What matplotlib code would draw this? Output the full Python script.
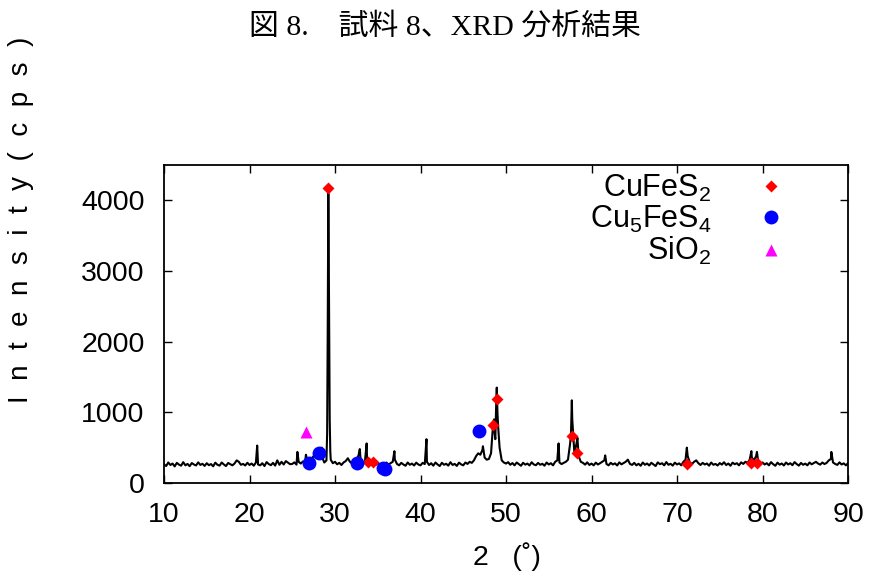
import matplotlib
matplotlib.use('Agg')
import matplotlib.pyplot as plt
import numpy as np

# Scan background, 10-90 deg in 0.25 deg steps (counts)
scan_counts = [
    265, 240, 290, 255, 275, 235, 285, 260, 245, 295, 250, 270, 238, 282, 262, 248, 292, 256, 272, 242,
    280, 252, 268, 236, 288, 258, 246, 290, 262, 240, 284, 266, 250, 276, 320, 300, 258, 270, 248, 286,
    255, 275, 245, 290, 262, 250, 280, 240, 296, 268, 252, 285, 246, 320, 258, 300, 262, 310, 288, 266,
    270, 292, 260, 300, 275, 305, 290, 330, 300, 345, 380, 360, 420, 410, 360, 290, 320, 3600, 330, 280,
    300, 265, 285, 255, 290, 310, 350, 300, 275, 300, 330, 390, 320, 280, 300, 330, 280, 265, 290, 255,
    285, 260, 275, 245, 290, 262, 280, 300, 330, 270, 250, 285, 262, 244, 290, 258, 275, 248, 288, 262,
    250, 285, 268, 300, 255, 280, 245, 290, 262, 240, 286, 258, 272, 246, 294, 256, 270, 242, 288, 264,
    250, 290, 270, 300, 285, 320, 380, 420, 400, 470, 360, 330, 340, 420, 850, 620, 1000, 500, 320, 290,
    275, 295, 258, 282, 250, 290, 266, 244, 286, 260, 275, 248, 294, 262, 252, 284, 258, 272, 245, 290,
    262, 280, 250, 300, 320, 290, 268, 285, 300, 330, 560, 900, 420, 560, 380, 300, 285, 260, 292, 255,
    275, 250, 288, 262, 280, 300, 320, 270, 250, 285, 262, 278, 248, 292, 264, 282, 300, 330, 270, 256,
    285, 250, 272, 244, 290, 258, 276, 248, 286, 262, 240, 292, 266, 280, 250, 296, 258, 272, 246, 288,
    262, 278, 250, 300, 330, 380, 290, 270, 300, 320, 280, 255, 285, 262, 276, 245, 290, 258, 270, 248,
    282, 260, 294, 254, 276, 244, 288, 266, 280, 250, 292, 270, 300, 285, 330, 360, 320, 380, 300, 275,
    290, 262, 280, 250, 295, 266, 244, 288, 260, 276, 248, 290, 262, 280, 252, 296, 268, 246, 284, 258,
    274, 250, 290, 264, 282, 300, 275, 260, 290, 268, 285, 320, 340, 290, 270, 256, 292, 262, 278, 250,
    280,
]

# Sharp reflections lying between scan steps
peak_2theta = [20.9, 25.6, 26.6, 28.45, 29.08, 29.15, 29.22, 29.3, 29.38, 29.45,
               32.9, 33.7, 36.95, 40.7, 47.3, 48.6, 48.68, 48.85, 48.92, 49.08,
               56.15, 57.6, 57.7, 58.35, 61.6, 71.15, 78.7, 79.35, 88.05]
peak_counts = [530, 440, 400, 500, 700, 2200, 4100, 2600, 900, 450,
               480, 560, 450, 620, 520, 900, 700, 1100, 1350, 800,
               560, 700, 1170, 640, 390, 500, 450, 440, 440]

# Phase markers
cufes2_x = [29.2, 33.9, 34.5, 48.5, 48.95, 57.7, 58.35, 71.2, 78.7, 79.4]
cufes2_y = [4180, 300, 300, 820, 1185, 660, 420, 270, 280, 280]
cu5fes4_x = [27.0, 28.1, 32.6, 35.6, 35.8, 46.8]
cu5fes4_y = [283, 420, 283, 215, 200, 735]
sio2_x = [26.6]
sio2_y = [720]

x_ticks = [10, 20, 30, 40, 50, 60, 70, 80, 90]
y_ticks = [0, 1000, 2000, 3000, 4000]

plt.rcParams['font.family'] = ['Liberation Sans', 'Noto Sans CJK JP', 'DejaVu Sans']
plt.rcParams['mathtext.fontset'] = 'custom'
plt.rcParams['mathtext.rm'] = 'Liberation Sans'
plt.rcParams['mathtext.it'] = 'Liberation Sans:italic'

scan_x = np.linspace(10, 90, len(scan_counts))
all_x = np.concatenate([scan_x, peak_2theta])
all_y = np.concatenate([scan_counts, peak_counts])
order = np.argsort(all_x)

fig = plt.figure(figsize=(8.74, 5.85), dpi=100)
ax = fig.add_axes([164 / 874, 1 - 483 / 585, (848 - 164) / 874, (483 - 165) / 585])

ax.plot(all_x[order], all_y[order], color='black', lw=1.5, zorder=2)

ax.plot(cufes2_x, cufes2_y, ls='none', marker='D', ms=6, color='#ff0000',
        mec='none', label='CuFeS$_2$', zorder=3)
ax.plot(cu5fes4_x, cu5fes4_y, ls='none', marker='o', ms=10, color='#0000ff',
        mec='none', label='Cu$_5$FeS$_4$', zorder=3)
ax.plot(sio2_x, sio2_y, ls='none', marker='^', ms=8.5, color='#ff00ff',
        mec='none', label='SiO$_2$', zorder=3)

ax.set_xlim(10, 90)
ax.set_ylim(0, 4500)
ax.set_xticks(x_ticks)
ax.set_yticks(y_ticks)
ax.tick_params(direction='in', length=6, width=1, top=True, right=True,
               labelsize=20.5, pad=14)
for s in ax.spines.values():
    s.set_linewidth(1.3)

ax.legend(loc='upper right', bbox_to_anchor=(786 / 874, 1 - 173 / 585),
          bbox_transform=fig.transFigure, frameon=False, markerfirst=False,
          fontsize=22, handlelength=1.0, handletextpad=1.45,
          labelspacing=0.0, borderpad=0, borderaxespad=0)

fig.text(0.509, 0.954, '図 8.　試料 8、XRD 分析結果', ha='center', va='center',
         fontsize=21.5, family=['Liberation Serif', 'Noto Sans CJK JP'])
fig.text(0.024, 0.625, 'I  n  t  e  n  s  i  t  y  (  c  p  s  )', rotation=90,
         ha='center', va='center', fontsize=20)
fig.text(0.58, 0.048, '2   (˚)', ha='center', va='center', fontsize=20.5)

fig.savefig('out.png', dpi=100)
